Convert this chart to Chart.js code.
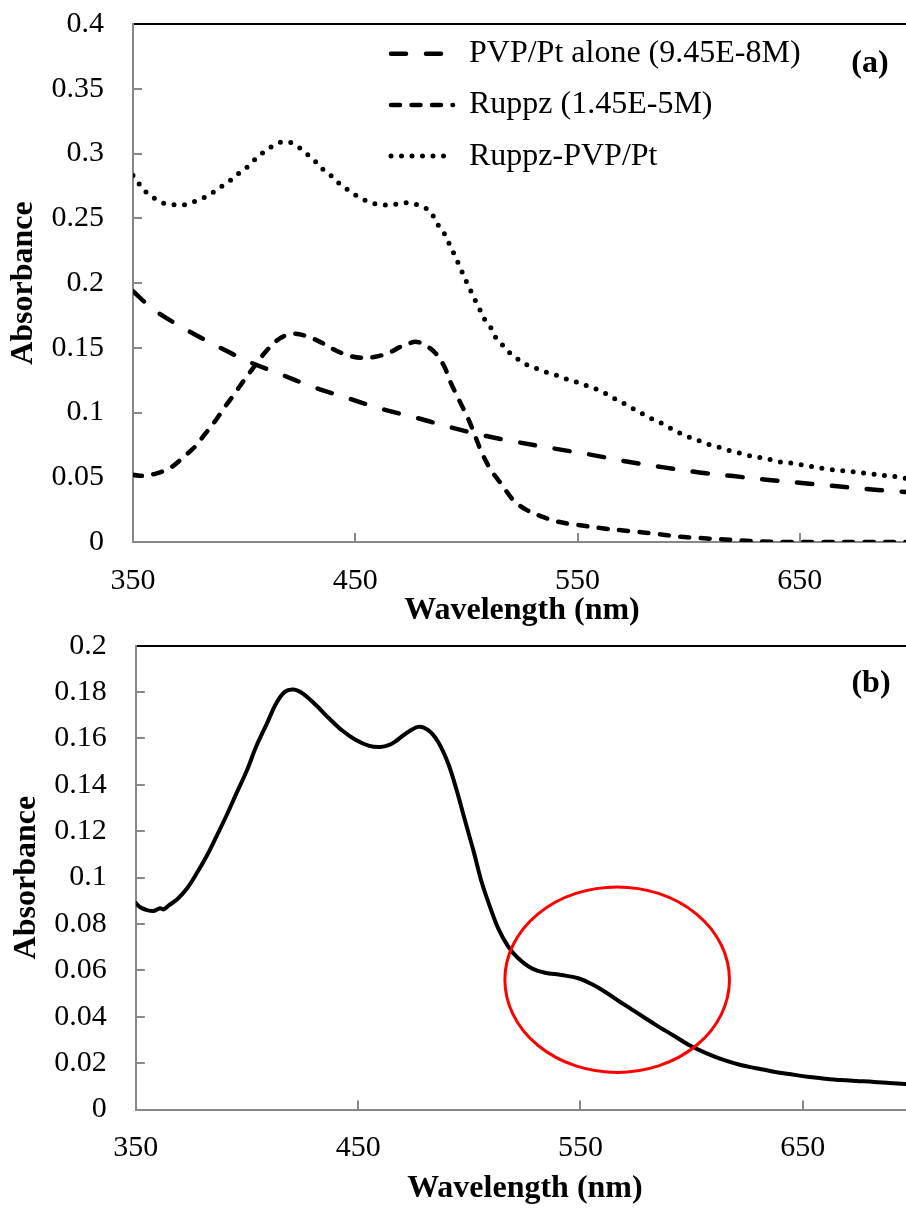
<!DOCTYPE html>
<html>
<head>
<meta charset="utf-8">
<title>UV-Vis absorbance spectra</title>
<script src="https://cdn.jsdelivr.net/npm/chart.js@4.4.1/dist/chart.umd.min.js"></script>
<style>
  html, body { margin: 0; padding: 0; background: #ffffff; overflow: hidden; }
  #page { position: relative; width: 906px; height: 1208px; overflow: hidden; background: #ffffff; }
  #panelA { position: absolute; left: 0; top: 0; width: 911px; height: 630px; }
  #panelB { position: absolute; left: 0; top: 630px; width: 914px; height: 578px; }
</style>
</head>
<body>
<div id="page">
  <div id="panelA"><canvas id="chartA" width="911" height="630"></canvas></div>
  <div id="panelB"><canvas id="chartB" width="914" height="578"></canvas></div>
</div>
<script>
// ---- Panel (a): PVP/Pt alone ----
const wlPvpPt  = [350,359,373,387,402,416,431,447,462,478,493,509,524,541,557,572,588,604,620,636,652,668,685,700];
const absPvpPt = [0.1937,0.1798,0.1649,0.152,0.1393,0.1298,0.1197,0.1109,0.1027,0.0957,0.0885,0.0818,0.0768,0.0717,0.0671,0.0622,0.0578,0.0539,0.0509,0.0479,0.0454,0.0428,0.0402,0.0384];

// ---- Panel (a): Ruppz ----
const wlRuppz  = [350,355,361,367,373,378,382,387,391,396,400,405,409,414,418,423,429,435,441,447,453,459,465,470,473,477,481,486,490,493,497,501,504,507,511,516,521,527,534,541,550,561,573,586,596,605,614,623,632,645,660,680,700];
const absRuppz = [0.0519,0.0511,0.0532,0.0575,0.066,0.0738,0.0825,0.0935,0.1035,0.1152,0.125,0.1365,0.1455,0.1545,0.159,0.1608,0.1584,0.1538,0.1481,0.144,0.1422,0.143,0.146,0.1505,0.1525,0.1546,0.1525,0.146,0.1357,0.1228,0.1086,0.0944,0.0815,0.0687,0.0557,0.0441,0.0325,0.0248,0.0196,0.0157,0.0132,0.0106,0.0085,0.0062,0.0041,0.0031,0.0021,0.0013,0.0005,0,0,0,0];

// ---- Panel (a): Ruppz-PVP/Pt ----
const wlHybrid  = [350,353,356,360,364,368,373,377,382,386,390,394,397,401,404,408,412,416,420,424,428,432,435,439,442,446,450,454,458,463,468,472,477,482,485,487,490,492,494,496,498,500,502,504,506,508,511,513,516,519,523,527,532,536,541,545,550,554,559,563,567,571,575,579,583,588,592,596,600,605,609,614,618,623,627,632,637,641,646,651,655,660,664,669,674,679,683,688,693,697,700];
const absHybrid = [0.283,0.276,0.270,0.265,0.2615,0.2604,0.2604,0.2626,0.266,0.270,0.2748,0.2795,0.284,0.289,0.294,0.300,0.305,0.3085,0.309,0.3055,0.300,0.294,0.2885,0.283,0.278,0.2727,0.268,0.2642,0.2615,0.2602,0.2608,0.262,0.2608,0.2575,0.2518,0.2454,0.2382,0.2312,0.224,0.2165,0.2087,0.201,0.1937,0.1865,0.1796,0.1724,0.1654,0.1584,0.1525,0.1468,0.1414,0.137,0.1337,0.131,0.1285,0.1259,0.1233,0.1207,0.1176,0.1143,0.1104,0.1068,0.1029,0.0991,0.0954,0.0915,0.0877,0.0841,0.081,0.0779,0.0753,0.073,0.0707,0.0686,0.0668,0.0652,0.0635,0.0619,0.0609,0.0596,0.0583,0.057,0.056,0.055,0.0542,0.0532,0.0524,0.0513,0.0505,0.0493,0.0488];

// ---- Panel (b): single spectrum ----
const wlPanelB  = [350,352,355,358,361,362.5,365,369,373,377,382,386,391,395,400,404,409,413,417,421,425,431,437,443,449,455,460,464,467,471,477,481.5,486,490.5,494.3,498,502,505.5,509.3,513,517.5,522,528,534,541.5,549,555,561,567,573,578,584,592,599,607,614,622,629,637,644,652,659,667,674,682,689,696,700];
const absPanelB = [0.0891,0.0872,0.086,0.0856,0.0868,0.0863,0.0881,0.091,0.0953,0.1012,0.1095,0.1172,0.1272,0.1358,0.1463,0.1562,0.1665,0.1749,0.1801,0.1811,0.1794,0.1744,0.1686,0.1633,0.1593,0.1568,0.1563,0.1572,0.1589,0.1618,0.165,0.1636,0.1585,0.1492,0.1377,0.1248,0.1111,0.0982,0.0874,0.0781,0.0702,0.0652,0.0609,0.059,0.058,0.0566,0.0541,0.0508,0.0469,0.0432,0.0401,0.0364,0.0318,0.0277,0.0241,0.0215,0.0192,0.0178,0.0163,0.0153,0.0141,0.0134,0.0127,0.0123,0.0119,0.0114,0.011,0.0108];

// ---- Names, ticks and the shoulder marker ----
const seriesNames = ['PVP/Pt alone (9.45E-8M)', 'Ruppz (1.45E-5M)', 'Ruppz-PVP/Pt'];
const xTickValues = [350, 450, 550, 650];
const xTickLabels = ['350', '450', '550', '650'];
const yTickValuesA = [0, 0.05, 0.1, 0.15, 0.2, 0.25, 0.3, 0.35, 0.4];
const yTickLabelsA = ['0', '0.05', '0.1', '0.15', '0.2', '0.25', '0.3', '0.35', '0.4'];
const yTickValuesB = [0, 0.02, 0.04, 0.06, 0.08, 0.1, 0.12, 0.14, 0.16, 0.18, 0.2];
const yTickLabelsB = ['0', '0.02', '0.04', '0.06', '0.08', '0.1', '0.12', '0.14', '0.16', '0.18', '0.2'];
const shoulderWl  = [516, 617];
const shoulderAbs = [0.016, 0.096];
const panelTags = ['(a)', '(b)'];

const FONT = "'Liberation Serif', 'Times New Roman', serif";
const INK = '#000000';
const AXIS_GREY = '#878787';

function toPoints(xs, ys) {
  return xs.map((x, i) => ({ x: x, y: ys[i] }));
}

// Bold panel letter near the top-right corner of the plot area
const panelTagPlugin = {
  id: 'panelTag',
  afterDraw(chart, args, opts) {
    if (!opts || !opts.text) return;
    const { ctx, chartArea } = chart;
    ctx.save();
    ctx.font = 'bold ' + opts.size + 'px ' + FONT;
    ctx.fillStyle = INK;
    ctx.textAlign = 'center';
    ctx.textBaseline = 'middle';
    ctx.fillText(opts.text, chartArea.right - opts.dx, chartArea.top + opts.dy);
    ctx.restore();
  }
};

// Moves the in-plot legend to its spot inside the plot area
const legendPlacement = {
  id: 'legendPlacement',
  afterLayout(chart, args, opts) {
    const lg = chart.legend;
    if (!lg || !opts || opts.left == null) return;
    lg.left = opts.left;
    lg.top = opts.top;
    lg.right = opts.left + lg.width;
    lg.bottom = chart.height;
  }
};

// Red ring around the shoulder, placed in data coordinates
const highlightRing = {
  id: 'highlightRing',
  afterDatasetsDraw(chart, args, opts) {
    if (!opts || !opts.xRange) return;
    const xs = chart.scales.x, ys = chart.scales.y, ctx = chart.ctx;
    const x0 = xs.getPixelForValue(opts.xRange[0]);
    const x1 = xs.getPixelForValue(opts.xRange[1]);
    const y0 = ys.getPixelForValue(opts.yRange[0]);
    const y1 = ys.getPixelForValue(opts.yRange[1]);
    ctx.save();
    ctx.beginPath();
    ctx.ellipse((x0 + x1) / 2, (y0 + y1) / 2, Math.abs(x1 - x0) / 2, Math.abs(y1 - y0) / 2, 0, 0, Math.PI * 2);
    ctx.strokeStyle = opts.color;
    ctx.lineWidth = opts.width;
    ctx.stroke();
    ctx.restore();
  }
};

function xAxis(height) {
  return {
    type: 'linear', position: 'bottom', min: 350, max: 700,
    afterBuildTicks: s => { s.ticks = xTickValues.map(v => ({ value: v })); },
    afterFit: s => { s.height = height; s.paddingLeft = 0; s.paddingRight = 0; },
    border: { display: true, color: AXIS_GREY, width: 2 },
    grid: { display: true, drawOnChartArea: false, drawTicks: true, tickLength: -9, color: AXIS_GREY, lineWidth: 2 },
    ticks: {
      color: INK, font: { family: FONT, size: 30, lineHeight: 1 }, padding: 33,
      maxRotation: 0, autoSkip: false, callback: (v, i) => xTickLabels[i]
    },
    title: {
      display: true, text: 'Wavelength (nm)', color: INK,
      font: { family: FONT, size: 32, weight: 'bold', lineHeight: 1 }, padding: { top: 0, bottom: 3 }
    }
  };
}

function yAxis(width, max, values, labels, titlePad) {
  return {
    type: 'linear', position: 'left', min: 0, max: max,
    afterBuildTicks: s => { s.ticks = values.map(v => ({ value: v })); },
    afterFit: s => { s.width = width; s.paddingTop = 0; s.paddingBottom = 0; },
    border: { display: true, color: AXIS_GREY, width: 2 },
    grid: { display: true, drawOnChartArea: false, drawTicks: true, tickLength: -9, color: AXIS_GREY, lineWidth: 2 },
    ticks: {
      color: INK, font: { family: FONT, size: 30, lineHeight: 1 }, padding: 38,
      autoSkip: false, callback: (v, i) => labels[i]
    },
    title: {
      display: true, text: 'Absorbance', color: INK,
      font: { family: FONT, size: 32, weight: 'bold', lineHeight: 1 }, padding: { top: titlePad, bottom: 0 }
    }
  };
}

function topFrame() {
  return {
    type: 'linear', position: 'top', min: 350, max: 700,
    afterFit: s => { s.height = 0; s.paddingLeft = 0; s.paddingRight = 0; },
    border: { display: true, color: INK, width: 2 },
    grid: { display: false, drawTicks: false },
    ticks: { display: false }
  };
}

function spectrumStyle(dash, width) {
  return {
    borderColor: INK, backgroundColor: INK, borderWidth: width,
    borderDash: dash, borderCapStyle: 'round', borderJoinStyle: 'round',
    pointRadius: 0, pointHoverRadius: 0, fill: false,
    tension: 0.35
  };
}

// Legend entries drawn as short line samples with each dataset's own dash pattern
function lineSampleLabels(chart) {
  return Chart.defaults.plugins.legend.labels.generateLabels(chart).map(item => {
    const ds = chart.data.datasets[item.datasetIndex];
    item.lineDash = ds.borderDash;
    item.lineCap = ds.borderCapStyle;
    item.lineWidth = ds.borderWidth;
    item.strokeStyle = ds.borderColor;
    item.pointStyle = 'line';
    return item;
  });
}

// Panel (a): three spectra with an in-plot legend
new Chart(document.getElementById('chartA'), {
  type: 'line',
  data: {
    datasets: [
      Object.assign({ label: seriesNames[0], data: toPoints(wlPvpPt, absPvpPt) }, spectrumStyle([15, 20], 4.5)),
      Object.assign({ label: seriesNames[1], data: toPoints(wlRuppz, absRuppz) }, spectrumStyle([9, 11.5], 4.5)),
      Object.assign({ label: seriesNames[2], data: toPoints(wlHybrid, absHybrid) }, spectrumStyle([0, 10.5], 5))
    ]
  },
  options: {
    responsive: false, animation: false, devicePixelRatio: 1,
    layout: { padding: { top: 24, left: 0, right: 0, bottom: 0 } },
    scales: {
      x: xAxis(88),
      x2: topFrame(),
      y: yAxis(133, 0.4, yTickValuesA, yTickLabelsA, 8)
    },
    plugins: {
      legend: {
        display: true, position: 'chartArea', align: 'start',
        labels: {
          usePointStyle: true, pointStyle: 'line', pointStyleWidth: 62,
          color: INK, font: { family: FONT, size: 32 }, padding: 19.2,
          generateLabels: lineSampleLabels
        }
      },
      tooltip: { enabled: false },
      legendPlacement: { left: 371.8, top: 18.5 },
      panelTag: { text: panelTags[0], size: 32, dx: 41, dy: 40 }
    }
  },
  plugins: [legendPlacement, panelTagPlugin]
});

// Panel (b): single spectrum with the shoulder ringed
new Chart(document.getElementById('chartB'), {
  type: 'line',
  data: {
    datasets: [
      Object.assign({ label: 'Absorbance', data: toPoints(wlPanelB, absPanelB) }, spectrumStyle([], 4))
    ]
  },
  options: {
    responsive: false, animation: false, devicePixelRatio: 1,
    layout: { padding: { top: 15.7, left: 0, right: 0, bottom: 0 } },
    scales: {
      x: xAxis(98.5),
      x2: topFrame(),
      y: yAxis(135.8, 0.2, yTickValuesB, yTickLabelsB, 11)
    },
    plugins: {
      legend: { display: false },
      tooltip: { enabled: false },
      highlightRing: { xRange: shoulderWl, yRange: shoulderAbs, color: '#ff0000', width: 3 },
      panelTag: { text: panelTags[1], size: 32, dx: 43, dy: 37.6 }
    }
  },
  plugins: [highlightRing, panelTagPlugin]
});
</script>
</body>
</html>
